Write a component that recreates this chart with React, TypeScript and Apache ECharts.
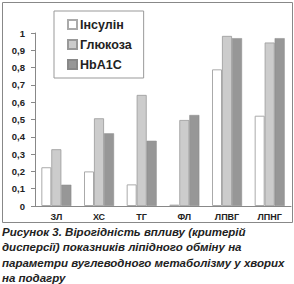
import React, { useEffect, useRef } from "react";
import * as echarts from "echarts";

const categories = ["ЗЛ", "ХС", "ТГ", "ФЛ", "ЛПВГ", "ЛПНГ"];
const insulin = [0.224, 0.2, 0.125, 0.008, 0.79, 0.522];
const glucose = [0.328, 0.507, 0.642, 0.497, 0.983, 0.945];
const hba1c = [0.123, 0.42, 0.377, 0.526, 0.97, 0.97];
const seriesNames = ["Інсулін", "Глюкоза", "HbA1C"];
const captionLines = [
  "Рисунок 3. Вірогідність впливу (критерій",
  "дисперсії) показників ліпідного обміну на",
  "параметри вуглеводного метаболізму у хворих",
  "на подагру",
];

export default function App() {
  const ref = useRef<HTMLDivElement>(null);
  useEffect(() => {
    if (!ref.current) return;
    const chart = echarts.init(ref.current, undefined, { renderer: "svg" });
    const font = "Liberation Sans, Arial, sans-serif";
    chart.setOption({
      animation: false,
      backgroundColor: "#ffffff",
      textStyle: { fontFamily: font },
      grid: { left: 35, top: 33, width: 256, height: 173, containLabel: false },
      legend: {
        orient: "vertical",
        left: 54,
        top: 11,
        padding: [7, 12, 7, 13],
        itemWidth: 9,
        itemHeight: 9,
        itemGap: 7,
        borderColor: "#999",
        borderWidth: 1,
        textStyle: { fontSize: 12.5, fontWeight: "bold", color: "#222", fontFamily: font, padding: [0, 0, 0, -2] },
        data: seriesNames.map((n) => ({ name: n, icon: "rect" })),
      },
      xAxis: {
        type: "category",
        data: categories,
        axisLine: { lineStyle: { color: "#888", width: 1 } },
        axisTick: { show: false },
        axisLabel: { fontSize: 9, fontWeight: "bold", color: "#222", margin: 6, fontFamily: font },
      },
      yAxis: {
        type: "value",
        min: 0,
        max: 1,
        interval: 0.1,
        splitLine: { show: false },
        axisLine: { show: true, lineStyle: { color: "#888", width: 1 } },
        axisTick: { show: true, length: 4, lineStyle: { color: "#888" } },
        axisLabel: {
          fontSize: 9.5,
          fontWeight: "bold",
          color: "#222",
          margin: 10,
          fontFamily: font,
          formatter: (v: number) => (Math.round(v * 10) / 10).toString().replace(".", ","),
        },
      },
      series: [
        {
          name: seriesNames[0],
          type: "bar",
          data: insulin,
          barWidth: 10,
          barGap: "0%",
          itemStyle: { color: "#ffffff", borderColor: "#aaa", borderWidth: 1 },
        },
        {
          name: seriesNames[1],
          type: "bar",
          data: glucose,
          barWidth: 10,
          barGap: "0%",
          itemStyle: { color: "#cccccc", borderColor: "#999", borderWidth: 0.8 },
        },
        {
          name: seriesNames[2],
          type: "bar",
          data: hba1c,
          barWidth: 10,
          barGap: "0%",
          itemStyle: { color: "#979797", borderColor: "#888", borderWidth: 0.5 },
        },
      ],
      graphic: [
        {
          type: "rect",
          shape: { x: 2.5, y: 2.5, width: 290, height: 220 },
          style: { fill: "none", stroke: "#888", lineWidth: 1 },
          silent: true,
        },
        ...captionLines.map((t, i) => ({
          type: "text",
          left: 2,
          top: 226 + i * 15.3,
          style: {
            text: t,
            fontSize: 11.5,
            fontWeight: "bold",
            fontStyle: "italic",
            fontFamily: font,
            fill: "#222",
          },
        })),
      ],
    });
    return () => chart.dispose();
  }, []);
  return (
    <div
      ref={ref}
      style={{ position: "fixed", left: 0, top: 0, width: 294, height: 284 }}
    />
  );
}
